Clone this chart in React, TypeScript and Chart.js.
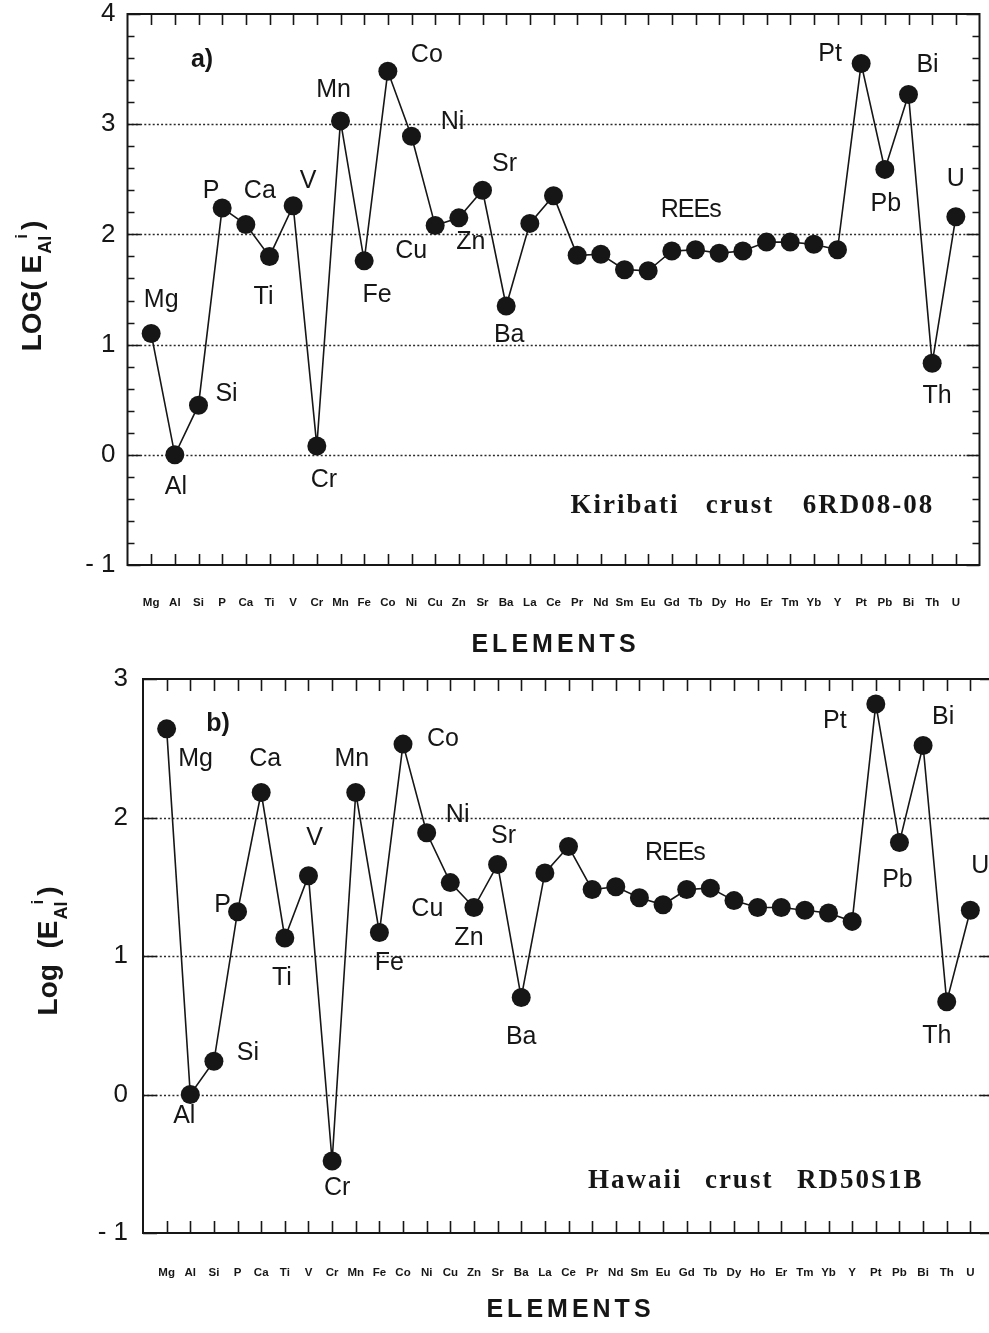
import React, { useEffect, useRef } from 'react';
import { Chart, registerables } from 'chart.js';

Chart.register(...registerables);

// ---------- data ----------
const elements = ['Mg', 'Al', 'Si', 'P', 'Ca', 'Ti', 'V', 'Cr', 'Mn', 'Fe', 'Co', 'Ni', 'Cu', 'Zn', 'Sr', 'Ba', 'La', 'Ce', 'Pr', 'Nd', 'Sm', 'Eu', 'Gd', 'Tb', 'Dy', 'Ho', 'Er', 'Tm', 'Yb', 'Y', 'Pt', 'Pb', 'Bi', 'Th', 'U'];

const kiribatiLogE = [1.10, 0.00, 0.45, 2.24, 2.09, 1.80, 2.26, 0.08, 3.03, 1.76, 3.48, 2.89, 2.08, 2.15, 2.40, 1.35, 2.10, 2.35, 1.81, 1.82, 1.68, 1.67, 1.85, 1.86, 1.83, 1.85, 1.93, 1.93, 1.91, 1.86, 3.55, 2.59, 3.27, 0.83, 2.16];

const hawaiiLogE = [2.64, 0.00, 0.24, 1.32, 2.18, 1.13, 1.58, -0.48, 2.18, 1.17, 2.53, 1.89, 1.53, 1.35, 1.66, 0.70, 1.60, 1.79, 1.48, 1.50, 1.42, 1.37, 1.48, 1.49, 1.40, 1.35, 1.35, 1.33, 1.31, 1.25, 2.82, 1.82, 2.52, 0.67, 1.33];

const labelledElements = ['Mg', 'Al', 'Si', 'P', 'Ca', 'Ti', 'V', 'Cr', 'Mn', 'Fe', 'Co', 'Ni', 'Cu', 'Zn', 'Sr', 'Ba', 'Pt', 'Pb', 'Bi', 'Th', 'U'];

// ---------- styling / placement ----------
const FONT = "'Liberation Sans', Arial, Helvetica, sans-serif";
const SERIF = "'Liberation Serif', 'Times New Roman', serif";
const INK = '#161616';

type Offsets = Record<string, [number, number]>;

const labelOffsetsA: Offsets = {
  Mg: [10, -36], Al: [1, 30], Si: [28, -13], P: [-11, -19], Ca: [14, -35], Ti: [-6, 39], V: [15, -27],
  Cr: [7, 32], Mn: [-7, -33], Fe: [13, 32], Co: [39, -18], Ni: [41, -16], Cu: [-24, 23], Zn: [12, 22],
  Sr: [22, -28], Ba: [3, 27], Pt: [-31, -12], Pb: [1, 33], Bi: [19, -31], Th: [5, 31], U: [0, -40],
};

const labelOffsetsB: Offsets = {
  Mg: [29, 28], Al: [-6, 20], Si: [34, -10], P: [-15, -9], Ca: [4, -36], Ti: [-3, 38], V: [6, -40],
  Cr: [5, 25], Mn: [-4, -36], Fe: [10, 29], Co: [40, -7], Ni: [31, -20], Cu: [-23, 24], Zn: [-5, 29],
  Sr: [6, -31], Ba: [0, 37], Pt: [-41, 15], Pb: [-2, 36], Bi: [20, -30], Th: [-10, 32], U: [10, -46],
};

interface PanelSpec {
  values: number[];
  offsets: Offsets;
  yMin: number;
  yMax: number;
  minorStep: number | null;
  top: number;
  canvasW: number;
  canvasH: number;
  padTop: number;
  padRight: number;
  yAxisWidth: number;
  yTickPad: number;
  xAxisHeight: number;
  xTickPad: number;
  majorLen: number;
  minorLen: number;
  xTickLen: number;
  tag: string;
  tagPos: [number, number];
  reesPos: [number, number];
  sampleWords: string[];
  sampleXs: number[];
  sampleY: number;
  yTitle: { main: string; sub: string; sup: string; close: string; cx: number; cy: number };
  elementsY: number;
}

const panelA: PanelSpec = {
  values: kiribatiLogE,
  offsets: labelOffsetsA,
  yMin: -1,
  yMax: 4,
  minorStep: 0.2,
  top: 0,
  canvasW: 1000,
  canvasH: 665,
  padTop: 14,
  padRight: 20.5,
  yAxisWidth: 127.5,
  yTickPad: 12,
  xAxisHeight: 100,
  xTickPad: 32.5,
  majorLen: 13,
  minorLen: 7,
  xTickLen: 11,
  tag: 'a)',
  tagPos: [3.15, 3.6],
  reesPos: [23.8, 2.24],
  sampleWords: ['Kiribati', 'crust', '6RD08-08'],
  sampleXs: [18.72, 24.43, 28.53],
  sampleY: -0.445,
  yTitle: { main: 'LOG( E', sub: 'Al', sup: 'i', close: ')', cx: 31, cy: 287 },
  elementsY: 643,
};

const panelB: PanelSpec = {
  values: hawaiiLogE,
  offsets: labelOffsetsB,
  yMin: -1,
  yMax: 3,
  minorStep: null,
  top: 665,
  canvasW: 1010,
  canvasH: 668,
  padTop: 14,
  padRight: 16,
  yAxisWidth: 143,
  yTickPad: 15,
  xAxisHeight: 100,
  xTickPad: 34.5,
  majorLen: 14,
  minorLen: 0,
  xTickLen: 12,
  tag: 'b)',
  tagPos: [3.17, 2.69],
  reesPos: [22.5, 1.76],
  sampleWords: ['Hawaii', 'crust', 'RD50S1B'],
  sampleXs: [18.82, 23.77, 27.67],
  sampleY: -0.61,
  yTitle: { main: 'Log  (E', sub: 'Al', sup: 'i', close: ')', cx: 47, cy: 287 },
  elementsY: 643,
};

function capText(ctx: CanvasRenderingContext2D, text: string, x: number, yCap: number, size: number) {
  ctx.fillText(text, x, yCap + 0.358 * size);
}

function drawYTitle(ctx: CanvasRenderingContext2D, t: PanelSpec['yTitle']) {
  ctx.save();
  ctx.translate(t.cx, t.cy);
  ctx.rotate(-Math.PI / 2);
  ctx.fillStyle = INK;
  ctx.textAlign = 'left';
  ctx.textBaseline = 'alphabetic';
  const mainFont = `bold 28px ${FONT}`;
  const subFont = `bold 18px ${FONT}`;
  const supFont = `bold 17px ${FONT}`;
  ctx.font = mainFont;
  const w1 = ctx.measureText(t.main).width;
  const w3 = ctx.measureText(t.close).width;
  ctx.font = subFont;
  const w2 = ctx.measureText(t.sub).width;
  ctx.font = supFont;
  const ws = ctx.measureText(t.sup).width;
  const total = w1 + w2 + ws + w3;
  let x = -total / 2;
  const base = 10;
  ctx.font = mainFont;
  ctx.fillText(t.main, x, base);
  x += w1 + 1;
  ctx.font = subFont;
  ctx.fillText(t.sub, x, base + 10);
  x += w2 - 3;
  ctx.font = supFont;
  ctx.fillText(t.sup, x, base - 14);
  x += ws + 4;
  ctx.font = mainFont;
  ctx.fillText(t.close, x, base);
  ctx.restore();
}

function makeDeco(spec: PanelSpec) {
  return {
    id: 'deco',
    beforeDatasetsDraw(chart: any) {
      const { ctx, chartArea: a, scales } = chart;
      const ys = scales.y;
      ctx.save();
      ctx.strokeStyle = '#2a2a2a';
      ctx.lineWidth = 1.3;
      ctx.setLineDash([2, 2.2]);
      for (let v = spec.yMin + 1; v < spec.yMax; v++) {
        const py = Math.round(ys.getPixelForValue(v)) + 0.5;
        ctx.beginPath();
        ctx.moveTo(a.left, py);
        ctx.lineTo(a.right, py);
        ctx.stroke();
      }
      ctx.restore();
    },
    afterDatasetsDraw(chart: any) {
      const { ctx, chartArea: a, scales } = chart;
      const xs = scales.x;
      const ys = scales.y;
      ctx.save();
      // frame
      ctx.strokeStyle = INK;
      ctx.lineWidth = 2;
      ctx.setLineDash([]);
      ctx.strokeRect(a.left, a.top, a.right - a.left, a.bottom - a.top);
      // inward x ticks
      ctx.lineWidth = 1.6;
      for (let i = 1; i <= elements.length; i++) {
        const px = Math.round(xs.getPixelForValue(i)) + 0.5;
        ctx.beginPath();
        ctx.moveTo(px, a.top);
        ctx.lineTo(px, a.top + spec.xTickLen);
        ctx.moveTo(px, a.bottom);
        ctx.lineTo(px, a.bottom - spec.xTickLen);
        ctx.stroke();
      }
      // inward y ticks
      for (let v = spec.yMin; v <= spec.yMax + 1e-9; v++) {
        const py = Math.round(ys.getPixelForValue(v)) + 0.5;
        ctx.beginPath();
        ctx.moveTo(a.left, py);
        ctx.lineTo(a.left + spec.majorLen, py);
        ctx.moveTo(a.right, py);
        ctx.lineTo(a.right - spec.majorLen, py);
        ctx.stroke();
      }
      if (spec.minorStep) {
        const n = Math.round((spec.yMax - spec.yMin) / spec.minorStep);
        for (let k = 1; k < n; k++) {
          const v = spec.yMin + k * spec.minorStep;
          if (Math.abs(v - Math.round(v)) < 1e-6) continue;
          const py = Math.round(ys.getPixelForValue(v)) + 0.5;
          ctx.beginPath();
          ctx.moveTo(a.left, py);
          ctx.lineTo(a.left + spec.minorLen, py);
          ctx.moveTo(a.right, py);
          ctx.lineTo(a.right - spec.minorLen, py);
          ctx.stroke();
        }
      }
      // point labels
      const meta = chart.getDatasetMeta(0);
      ctx.fillStyle = INK;
      ctx.textAlign = 'center';
      ctx.textBaseline = 'alphabetic';
      ctx.font = `25px ${FONT}`;
      labelledElements.forEach((el) => {
        const idx = elements.indexOf(el);
        const pt = meta.data[idx];
        const off = spec.offsets[el];
        if (!pt || !off) return;
        capText(ctx, el, pt.x + off[0], pt.y + off[1], 25);
      });
      // REEs
      (ctx as any).letterSpacing = '-1px';
      capText(ctx, 'REEs', xs.getPixelForValue(spec.reesPos[0]), ys.getPixelForValue(spec.reesPos[1]), 25);
      (ctx as any).letterSpacing = '0px';
      // panel tag
      ctx.font = `bold 25px ${FONT}`;
      capText(ctx, spec.tag, xs.getPixelForValue(spec.tagPos[0]), ys.getPixelForValue(spec.tagPos[1]), 25);
      // sample name
      ctx.font = `bold 27px ${SERIF}`;
      ctx.textAlign = 'left';
      (ctx as any).letterSpacing = '2px';
      spec.sampleWords.forEach((w, i) => {
        ctx.fillText(w, xs.getPixelForValue(spec.sampleXs[i]), ys.getPixelForValue(spec.sampleY) + 0.33 * 27);
      });
      // x title
      ctx.font = `bold 25px ${FONT}`;
      ctx.textAlign = 'center';
      (ctx as any).letterSpacing = '4px';
      capText(ctx, 'ELEMENTS', (a.left + a.right) / 2 + 2, spec.elementsY, 25);
      (ctx as any).letterSpacing = '0px';
      ctx.restore();
      drawYTitle(ctx, spec.yTitle);
    },
  };
}

function Panel({ spec }: { spec: PanelSpec }) {
  const ref = useRef<HTMLCanvasElement>(null);
  useEffect(() => {
    const canvas = ref.current;
    if (!canvas) return;
    const chart = new Chart(canvas, {
      type: 'line',
      data: {
        datasets: [
          {
            data: spec.values.map((v, i) => ({ x: i + 1, y: v })),
            borderColor: INK,
            borderWidth: 1.6,
            pointRadius: 9.5,
            pointBackgroundColor: INK,
            pointBorderColor: INK,
            pointBorderWidth: 0,
            tension: 0,
            fill: false,
            clip: false,
          },
        ],
      },
      options: {
        responsive: false,
        animation: false,
        devicePixelRatio: 1,
        layout: { autoPadding: false, padding: { left: 0, top: spec.padTop, right: spec.padRight, bottom: 0 } },
        plugins: { legend: { display: false }, tooltip: { enabled: false } },
        scales: {
          x: {
            type: 'linear',
            min: 0,
            max: 36,
            grid: { display: false, drawTicks: false },
            border: { display: false },
            ticks: {
              stepSize: 1,
              autoSkip: false,
              maxRotation: 0,
              minRotation: 0,
              padding: spec.xTickPad,
              color: INK,
              font: { family: FONT, size: 11.5, weight: 'bold', lineHeight: 1 },
              callback: (v: any) => {
                const n = Number(v);
                return Number.isInteger(n) && n >= 1 && n <= elements.length ? elements[n - 1] : '';
              },
            },
            afterFit: (s: any) => {
              s.height = spec.xAxisHeight;
              s.paddingLeft = 0;
              s.paddingRight = 0;
            },
          },
          y: {
            type: 'linear',
            min: spec.yMin,
            max: spec.yMax,
            grid: { display: false, drawTicks: false },
            border: { display: false },
            ticks: {
              stepSize: 1,
              padding: spec.yTickPad,
              color: INK,
              font: { family: FONT, size: 26, lineHeight: 1 },
              callback: (v: any) => (Number(v) < 0 ? '- ' + Math.abs(Number(v)) : String(v)),
            },
            afterFit: (s: any) => {
              s.width = spec.yAxisWidth;
              s.paddingTop = 0;
              s.paddingBottom = 0;
            },
          },
        },
      } as any,
      plugins: [makeDeco(spec)],
    });
    return () => chart.destroy();
  }, [spec]);
  return (
    <canvas
      ref={ref}
      width={spec.canvasW}
      height={spec.canvasH}
      style={{ position: 'absolute', left: 0, top: spec.top, width: spec.canvasW, height: spec.canvasH, display: 'block' }}
    />
  );
}

export default function App() {
  return (
    <div
      style={{
        position: 'fixed',
        left: 0,
        top: 0,
        width: 989,
        height: 1333,
        overflow: 'hidden',
        background: '#ffffff',
      }}
    >
      <Panel spec={panelA} />
      <Panel spec={panelB} />
    </div>
  );
}
